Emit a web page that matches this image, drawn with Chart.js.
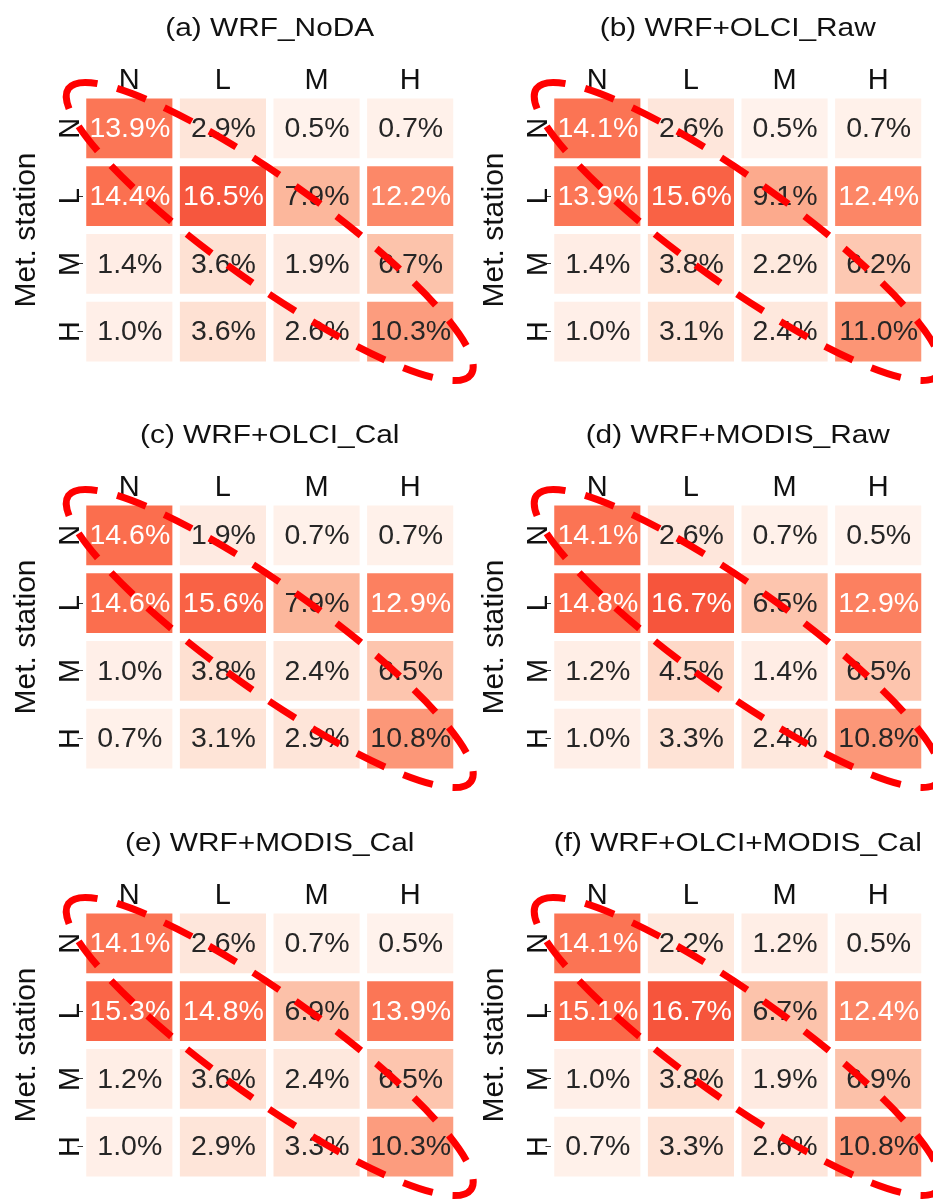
<!DOCTYPE html>
<html><head><meta charset="utf-8">
<script src="https://cdn.jsdelivr.net/npm/chart.js@4/dist/chart.umd.min.js"></script>
<style>
html,body{margin:0;padding:0;background:#fff;}
#wrap{position:relative;width:933px;height:1203px;overflow:hidden;background:#fff;}
#wrap canvas{position:absolute;}
</style></head><body><div id="wrap"></div>
<script>
// ---- data ----
const stationLabels = ['N', 'L', 'M', 'H'];   // rows: Met. station class
const modelLabels = ['N', 'L', 'M', 'H'];     // columns: simulated class
const yAxisTitle = 'Met. station';
const panelTitles = ['(a) WRF_NoDA', '(b) WRF+OLCI_Raw', '(c) WRF+OLCI_Cal',
                     '(d) WRF+MODIS_Raw', '(e) WRF+MODIS_Cal', '(f) WRF+OLCI+MODIS_Cal'];
// percent of cases, one row per station class
const wrfNoDA        = [[13.9, 2.9, 0.5, 0.7], [14.4, 16.5, 7.9, 12.2], [1.4, 3.6, 1.9, 6.7], [1.0, 3.6, 2.6, 10.3]];
const wrfOlciRaw     = [[14.1, 2.6, 0.5, 0.7], [13.9, 15.6, 9.1, 12.4], [1.4, 3.8, 2.2, 6.2], [1.0, 3.1, 2.4, 11.0]];
const wrfOlciCal     = [[14.6, 1.9, 0.7, 0.7], [14.6, 15.6, 7.9, 12.9], [1.0, 3.8, 2.4, 6.5], [0.7, 3.1, 2.9, 10.8]];
const wrfModisRaw    = [[14.1, 2.6, 0.7, 0.5], [14.8, 16.7, 6.5, 12.9], [1.2, 4.5, 1.4, 6.5], [1.0, 3.3, 2.4, 10.8]];
const wrfModisCal    = [[14.1, 2.6, 0.7, 0.5], [15.3, 14.8, 6.9, 13.9], [1.2, 3.6, 2.4, 6.5], [1.0, 2.9, 3.3, 10.3]];
const wrfOlciModisCal= [[14.1, 2.2, 1.2, 0.5], [15.1, 16.7, 6.7, 12.4], [1.0, 3.8, 1.9, 6.9], [0.7, 3.3, 2.6, 10.8]];
const panelData = [wrfNoDA, wrfOlciRaw, wrfOlciCal, wrfModisRaw, wrfModisCal, wrfOlciModisCal];

// ---- style ----
const FONT = "'Liberation Sans', Arial, Helvetica, sans-serif";
const COLOR_MAX = 30;
const REDS = ['#fff5f0','#fee0d2','#fcbba1','#fc9272','#fb6a4a','#ef3b2c','#cb181d','#a50f15','#67000d'];
function hexToRgb(h){return [parseInt(h.slice(1,3),16),parseInt(h.slice(3,5),16),parseInt(h.slice(5,7),16)];}
const REDS_RGB = REDS.map(hexToRgb);
function reds(t){
  t = Math.max(0, Math.min(1, t));
  const p = t * (REDS_RGB.length - 1);
  const i = Math.min(Math.floor(p), REDS_RGB.length - 2);
  const f = p - i;
  const a = REDS_RGB[i], b = REDS_RGB[i+1];
  return 'rgb(' + a.map((v,k)=>Math.round(v + (b[k]-v)*f)).join(',') + ')';
}

const panelPos = [
  {left:0,   top:0,   w:480, h:400},
  {left:468, top:0,   w:465, h:400},
  {left:0,   top:407, w:480, h:400},
  {left:468, top:407, w:465, h:400},
  {left:0,   top:815, w:480, h:388},
  {left:468, top:815, w:465, h:388}
];
const AREA_LEFT = 82.5, AREA_TOP = 94.5, AREA_RIGHT = 457, AREA_BOTTOM = 365.5;

const heatPlugin = {
  id: 'heatText',
  afterDatasetsDraw(chart) {
    const ctx = chart.ctx;
    const vals = chart.options.plugins.heatText.values;
    const xs = chart.scales.x, ys = chart.scales.y;
    ctx.save();
    ctx.font = '28.5px ' + FONT;
    ctx.textAlign = 'center';
    ctx.textBaseline = 'alphabetic';
    vals.forEach((row, r) => row.forEach((v, c) => {
      const px = xs.getPixelForValue(c), py = ys.getPixelForValue(r);
      ctx.fillStyle = v > 11.5 ? '#ffffff' : '#262626';
      ctx.fillText(v.toFixed(1) + '%', px + 0.5, py + 8.7);
    }));
    ctx.restore();
  },
  afterDraw(chart) {
    const ctx = chart.ctx;
    const xs = chart.scales.x, ys = chart.scales.y;
    const a = chart.chartArea;
    // title
    ctx.save();
    ctx.font = '25.5px ' + FONT;
    ctx.fillStyle = '#111';
    ctx.textAlign = 'center';
    ctx.textBaseline = 'alphabetic';
    ctx.translate((a.left + a.right) / 2, a.top - 58.8);
    ctx.scale(1.17, 1);
    ctx.fillText(chart.options.plugins.heatText.title, 0, 0);
    ctx.restore();
    // dashed ellipse around the diagonal
    const n = modelLabels.length - 1;
    const x0 = xs.getPixelForValue(0), y0 = ys.getPixelForValue(0);
    const x1 = xs.getPixelForValue(n), y1 = ys.getPixelForValue(n);
    const cx = (x0 + x1) / 2, cy = (y0 + y1) / 2 + 1.5;
    const D = Math.hypot(x1 - x0, y1 - y0);
    const ang = Math.atan2(y1 - y0, x1 - x0) - 0.009;
    ctx.save();
    ctx.beginPath();
    ctx.ellipse(cx, cy, 0.712 * D, 0.15 * D, ang, Math.PI, 3 * Math.PI);
    ctx.setLineDash([31, 20]);
    ctx.lineWidth = 7;
    ctx.strokeStyle = '#ff0000';
    ctx.stroke();
    ctx.restore();
  }
};

const wrap = document.getElementById('wrap');

panelData.forEach((values, idx) => {
  const pos = panelPos[idx];
  const canvas = document.createElement('canvas');
  canvas.width = pos.w; canvas.height = pos.h;
  canvas.style.left = pos.left + 'px'; canvas.style.top = pos.top + 'px';
  canvas.style.width = pos.w + 'px'; canvas.style.height = pos.h + 'px';
  wrap.appendChild(canvas);

  const datasets = stationLabels.map((st, r) => ({
    label: st,
    data: modelLabels.map(() => [r - 0.44, r + 0.44]),
    backgroundColor: values[r].map(v => reds(v / COLOR_MAX)),
    borderWidth: 0,
    grouped: false,
    categoryPercentage: 1,
    barPercentage: 0.92
  }));

  new Chart(canvas, {
    type: 'bar',
    data: { labels: modelLabels, datasets },
    plugins: [heatPlugin],
    options: {
      responsive: false,
      animation: false,
      devicePixelRatio: 1,
      layout: { padding: { left: 0, top: 0, right: pos.w - AREA_RIGHT, bottom: pos.h - AREA_BOTTOM } },
      plugins: {
        legend: { display: false },
        title: { display: false },
        tooltip: { enabled: false },
        heatText: { values, title: panelTitles[idx] }
      },
      scales: {
        x: {
          type: 'category',
          position: 'top',
          offset: true,
          grid: { display: false, drawTicks: false },
          border: { display: false },
          ticks: { font: { family: FONT, size: 29 }, color: '#111', padding: -4, maxRotation: 0, minRotation: 0 },
          afterFit: s => { s.height = AREA_TOP; }
        },
        y: {
          type: 'linear',
          position: 'left',
          reverse: true,
          min: -0.5,
          max: stationLabels.length - 0.5,
          afterBuildTicks: s => { s.ticks = stationLabels.map((_, i) => ({ value: i })); },
          grid: { display: true, drawOnChartArea: false, drawTicks: true, tickLength: 5, color: '#333', lineWidth: 1 },
          border: { display: false },
          ticks: {
            font: { family: FONT, size: 29 }, color: '#111',
            minRotation: 90, maxRotation: 90,
            crossAlign: 'center', padding: -6,
            callback: v => stationLabels[v]
          },
          title: { display: true, text: yAxisTitle, font: { family: FONT, size: 30 }, color: '#111', padding: { top: 9, bottom: 0 } },
          afterFit: s => { s.width = AREA_LEFT; }
        }
      }
    }
  });
});
</script>
</body></html>
